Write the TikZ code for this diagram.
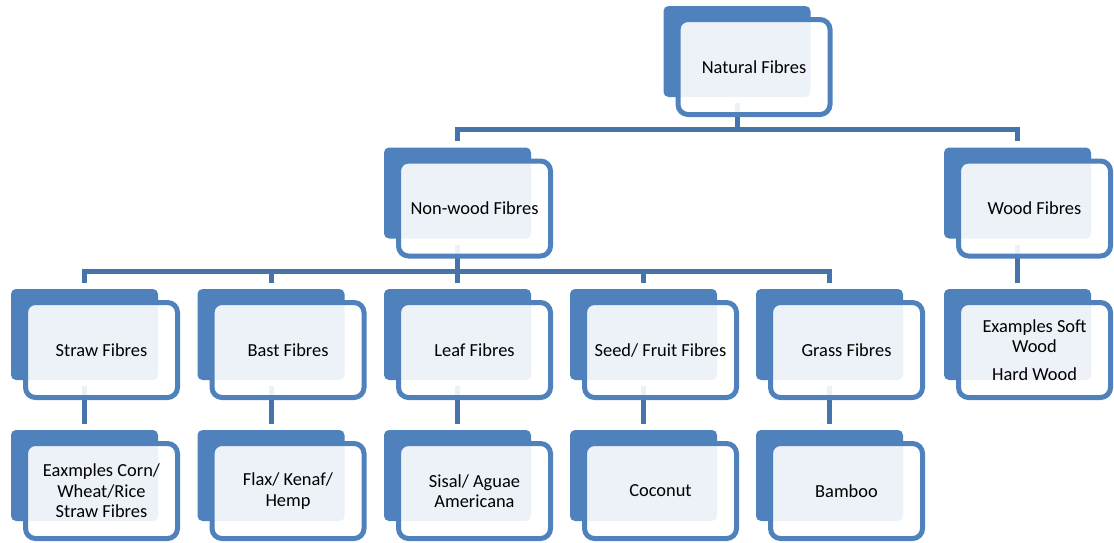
\documentclass[tikz,border=0pt]{standalone}
\usepackage{fontspec}
\setmainfont{Carlito}
\usetikzlibrary{calc}
\pgfdeclarelayer{bg}
\pgfsetlayers{bg,main}
\definecolor{boxblue}{HTML}{4F81BD}
\definecolor{connblue}{HTML}{4773AB}
\tikzset{
  backbox/.style={rectangle, fill=boxblue, minimum width=147pt, minimum height=91pt, inner sep=0pt, rounded corners=5pt},
  frontbox/.style={rectangle, draw=boxblue, line width=5pt, fill=white, fill opacity=0.9, draw opacity=1, text opacity=1,
    minimum width=152pt, minimum height=95pt, inner sep=0pt, rounded corners=10pt, align=center,
    font=\fontsize{18.4}{20.5}\selectfont},
  conn/.style={draw=connblue, line width=5pt, shorten <=6pt, shorten >=6pt}
}
\newcommand\mybox[4]{%
  \node[backbox] (#1-b) at (#2,#3) {};
  \node[frontbox] (#1) at ([shift={(17,15.5)}]#1-b) {#4};
}
\begin{document}
\begin{tikzpicture}[x=1pt,y=-1pt]
\useasboundingbox (0,0) rectangle (1114,542);
\coordinate (bar1) at (0,129.5);
\coordinate (bar2) at (0,271.5);
\mybox{nat}{737}{51.5}{Natural Fibres}
\mybox{nw}{457.5}{193}{Non-wood Fibres}
\mybox{wood}{1017.5}{193}{Wood Fibres}
\mybox{straw}{84.5}{334.5}{Straw Fibres}
\mybox{bast}{271}{334.5}{Bast Fibres}
\mybox{leaf}{457.5}{334.5}{Leaf Fibres}
\mybox{seed}{643.5}{334.5}{Seed/ Fruit Fibres}
\mybox{grass}{829.5}{334.5}{Grass Fibres}
\mybox{woodex}{1017.5}{334.5}{Examples Soft\\Wood\\[7pt]Hard Wood}
\mybox{strawex}{84.5}{475.5}{Eaxmples Corn/\\Wheat/Rice\\Straw Fibres}
\mybox{bastex}{271}{475.5}{Flax/ Kenaf/\\Hemp}
\mybox{leafex}{457.5}{475.5}{Sisal/ Aguae\\Americana}
\mybox{seedex}{643.5}{475.5}{Coconut}
\mybox{grassex}{829.5}{475.5}{Bamboo}
\begin{pgfonlayer}{bg}
\draw[conn] (nat-b.south) -- (nat-b.south |- bar1) -| (nw-b.north);
\draw[conn] (nat-b.south) -- (nat-b.south |- bar1) -| (wood-b.north);
\foreach \c in {straw,bast,leaf,seed,grass}{
  \draw[conn] (nw-b.south) -- (nw-b.south |- bar2) -| (\c-b.north);
}
\draw[conn] (wood-b.south) -- (woodex-b.north);
\draw[conn] (straw-b.south) -- (strawex-b.north);
\draw[conn] (bast-b.south) -- (bastex-b.north);
\draw[conn] (leaf-b.south) -- (leafex-b.north);
\draw[conn] (seed-b.south) -- (seedex-b.north);
\draw[conn] (grass-b.south) -- (grassex-b.north);
\end{pgfonlayer}
\end{tikzpicture}
\end{document}
